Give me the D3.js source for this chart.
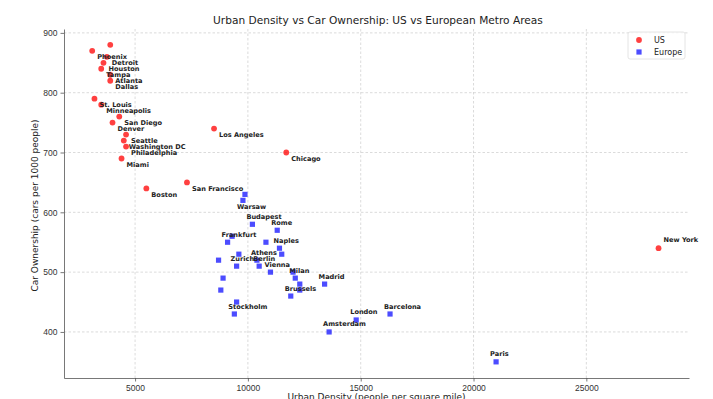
<!DOCTYPE html>
<html>
<head>
<meta charset="utf-8">
<script src="https://cdn.jsdelivr.net/npm/d3@7"></script>
<style>
  body { margin: 0; background: #fff; }
  svg { font-family: "DejaVu Sans", sans-serif; }
  .grid line { stroke: #ccc; stroke-dasharray: 2.5,2; stroke-width: 0.7; }
  .axis path, .axis line { stroke: #555; stroke-width: 0.8; }
  .axis text { fill: #333; font-size: 8.5px; }
  .city { font-size: 6.6px; font-weight: bold; fill: #222; }
</style>
</head>
<body>
<div id="chart"></div>
<script>
// US metro areas
var usCities = ['', 'Phoenix', 'Detroit', 'Houston', 'Tampa', 'Atlanta', 'Dallas',
  'St. Louis', 'Minneapolis', 'San Diego', 'Denver', 'Seattle', 'Washington DC',
  'Philadelphia', 'Miami', 'Los Angeles', 'San Francisco', 'Boston', 'Chicago', 'New York'];
var usDensity = [3900, 3100, 3750, 3600, 3500, 3900, 3900, 3200, 3500, 4300, 4000,
  4600, 4500, 4600, 4400, 8500, 7300, 5500, 11700, 28200];
var usCars = [880, 870, 860, 850, 840, 830, 820, 790, 780, 760, 750, 730, 720, 710,
  690, 740, 650, 640, 700, 540];

// European metro areas
var euCities = ['', 'Warsaw', 'Budapest', 'Rome', '', 'Frankfurt', '', 'Naples', '', '',
  '', 'Athens', 'Berlin', 'Zurich', 'Vienna', '', 'Milan', '', '', 'Madrid', '', '',
  'Brussels', '', 'Stockholm', 'London', 'Amsterdam', 'Barcelona', 'Paris'];
var euDensity = [9870, 9780, 10200, 11300, 9300, 9100, 10800, 11400, 11500, 9600,
  8700, 10400, 10500, 9500, 11000, 12000, 12100, 8900, 12300, 13400, 8800, 12300,
  11900, 9500, 9400, 14800, 13600, 16300, 21000];
var euCars = [630, 620, 580, 570, 560, 550, 550, 540, 530, 530, 520, 520, 510, 510,
  500, 500, 490, 490, 480, 480, 470, 470, 460, 450, 430, 420, 400, 430, 350];

var xTicks = [5000, 10000, 15000, 20000, 25000];
var yTicks = [400, 500, 600, 700, 800, 900];

var W = 713, H = 399;
var m = { left: 64, right: 24, top: 29, bottom: 21 };

var svg = d3.select('#chart').append('svg')
  .attr('width', W).attr('height', H);

var x = d3.scaleLinear().domain([1850, 29550]).range([m.left, W - m.right]);
var y = d3.scaleLinear().domain([323, 906.5]).range([H - m.bottom, m.top]);

function zip(names, xs, ys) {
  return names.map(function (n, i) { return { name: n, d: xs[i], c: ys[i] }; });
}
var us = zip(usCities, usDensity, usCars);
var eu = zip(euCities, euDensity, euCars);

// labels that sit on the other side of their point
var flipped = ['New York', 'Warsaw'];

// grid
var grid = svg.append('g').attr('class', 'grid');
grid.selectAll('line.v').data(xTicks).enter().append('line')
  .attr('x1', x).attr('x2', x).attr('y1', m.top).attr('y2', H - m.bottom);
grid.selectAll('line.h').data(yTicks).enter().append('line')
  .attr('y1', y).attr('y2', y).attr('x1', m.left).attr('x2', W - m.right);

// axes
svg.append('g').attr('class', 'axis')
  .attr('transform', 'translate(0,' + (H - m.bottom) + ')')
  .call(d3.axisBottom(x).tickValues(xTicks).tickFormat(d3.format('d')).tickSizeInner(3.5).tickSizeOuter(0));
svg.append('g').attr('class', 'axis')
  .attr('transform', 'translate(' + m.left + ',0)')
  .call(d3.axisLeft(y).tickValues(yTicks).tickSizeInner(3.5).tickSizeOuter(0));

// points
svg.selectAll('circle.us').data(us).enter().append('circle')
  .attr('cx', function (d) { return x(d.d); })
  .attr('cy', function (d) { return y(d.c); })
  .attr('r', 2.9)
  .attr('fill', 'red').attr('fill-opacity', 0.75);

var s = 5.2;
svg.selectAll('rect.eu').data(eu).enter().append('rect')
  .attr('x', function (d) { return x(d.d) - s / 2; })
  .attr('y', function (d) { return y(d.c) - s / 2; })
  .attr('width', s).attr('height', s)
  .attr('fill', 'blue').attr('fill-opacity', 0.7);

// city labels
svg.selectAll('text.uslab').data(us.filter(function (d) { return d.name; })).enter()
  .append('text').attr('class', 'city')
  .attr('x', function (d) { return x(d.d) + 5; })
  .attr('y', function (d) { return y(d.c) + (flipped.indexOf(d.name) < 0 ? 8.5 : -6.5); })
  .text(function (d) { return d.name; });
svg.selectAll('text.eulab').data(eu.filter(function (d) { return d.name; })).enter()
  .append('text').attr('class', 'city')
  .attr('x', function (d) { return x(d.d) - 6; })
  .attr('y', function (d) { return y(d.c) + (flipped.indexOf(d.name) < 0 ? -5.5 : 9); })
  .text(function (d) { return d.name; });

// title and axis labels
svg.append('text').attr('x', 378).attr('y', 24)
  .attr('text-anchor', 'middle').attr('font-size', 10.6).attr('fill', '#222')
  .text('Urban Density vs Car Ownership: US vs European Metro Areas');
svg.append('text').attr('x', (m.left + W - m.right) / 2).attr('y', 400)
  .attr('text-anchor', 'middle').attr('font-size', 9).attr('fill', '#222')
  .text('Urban Density (people per square mile)');
svg.append('text')
  .attr('transform', 'translate(38,' + ((m.top + H - m.bottom) / 2 + 2) + ') rotate(-90)')
  .attr('text-anchor', 'middle').attr('font-size', 9).attr('fill', '#222')
  .text('Car Ownership (cars per 1000 people)');

// legend
var lg = svg.append('g').attr('transform', 'translate(628,32)');
lg.append('rect').attr('width', 57).attr('height', 27).attr('rx', 2)
  .attr('fill', '#fff').attr('fill-opacity', 0.8).attr('stroke', '#ddd').attr('stroke-width', 0.8);
lg.append('circle').attr('cx', 11).attr('cy', 8).attr('r', 2.9)
  .attr('fill', 'red').attr('fill-opacity', 0.75);
lg.append('rect').attr('x', 11 - s / 2).attr('y', 20 - s / 2).attr('width', s).attr('height', s)
  .attr('fill', 'blue').attr('fill-opacity', 0.7);
lg.append('text').attr('x', 26).attr('y', 11).attr('font-size', 8).attr('fill', '#222').text('US');
lg.append('text').attr('x', 26).attr('y', 23).attr('font-size', 8).attr('fill', '#222').text('Europe');
</script>
</body>
</html>
